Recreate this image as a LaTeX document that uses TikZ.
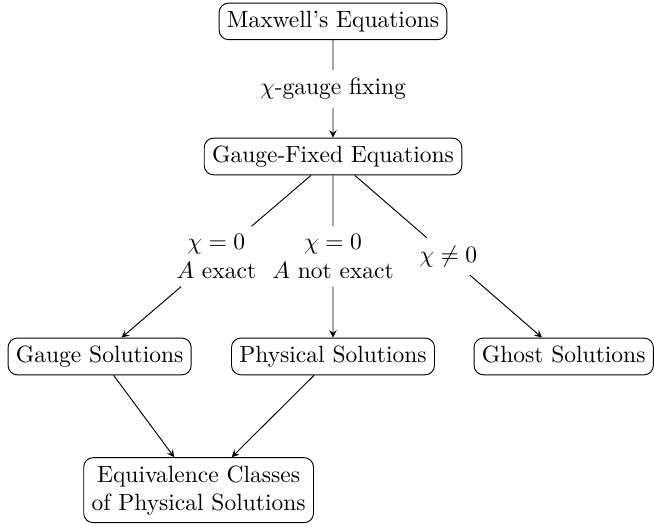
\documentclass[tikz,border=0pt]{standalone}
\usepackage{tikz}
\usepackage{xcolor}
\usetikzlibrary{calc}

\tikzset{
	eqbox/.style={draw, rounded corners, align=center, text depth=1.94pt},
	caselabel/.style={align=center}
}

\begin{document}
\begin{tikzpicture}
	\useasboundingbox (0,0) rectangle (9.78,-7.87);
	\node[eqbox] (maxwell) at (4.98,-0.32) {Maxwell's Equations};
	\node[eqbox] (fixed) at (4.98,-2.34) {Gauge-Fixed Equations};
	\node[eqbox] (gauge) at (1.49,-5.33) {Gauge Solutions};
	\node[eqbox] (physical) at (4.98,-5.33) {Physical Solutions};
	\node[eqbox] (ghost) at (8.43,-5.33) {Ghost Solutions};
	\node[eqbox] (classes) at (2.97,-7.33) {Equivalence Classes\\of Physical Solutions};
	% labels halfway along the edges
	\node[caselabel] (fixing) at ($(maxwell)!0.5!(fixed)$) {$\chi$-gauge fixing};
	\node[caselabel] (exact) at ($(fixed)!0.5!(gauge)$) {$\chi = 0$\\$A$ exact};
	\node[caselabel] (notexact) at ($(fixed)!0.5!(physical)$) {$\chi = 0$\\$A$ not exact};
	\node[caselabel] (nonzero) at ($(fixed)!0.5!(ghost)$) {$\chi \neq 0$};
	\draw (maxwell) -- (fixing);
	\draw[-stealth] (fixing) -- (fixed);
	\draw (fixed) -- (exact);
	\draw[-stealth] (exact) -- (gauge);
	\draw (fixed) -- (notexact);
	\draw[-stealth] (notexact) -- (physical);
	\draw (fixed) -- (nonzero);
	\draw[-stealth] (nonzero) -- (ghost);
	\draw[-stealth] (gauge) -- (classes);
	\draw[-stealth] (physical) -- (classes);
\end{tikzpicture}
\end{document}
